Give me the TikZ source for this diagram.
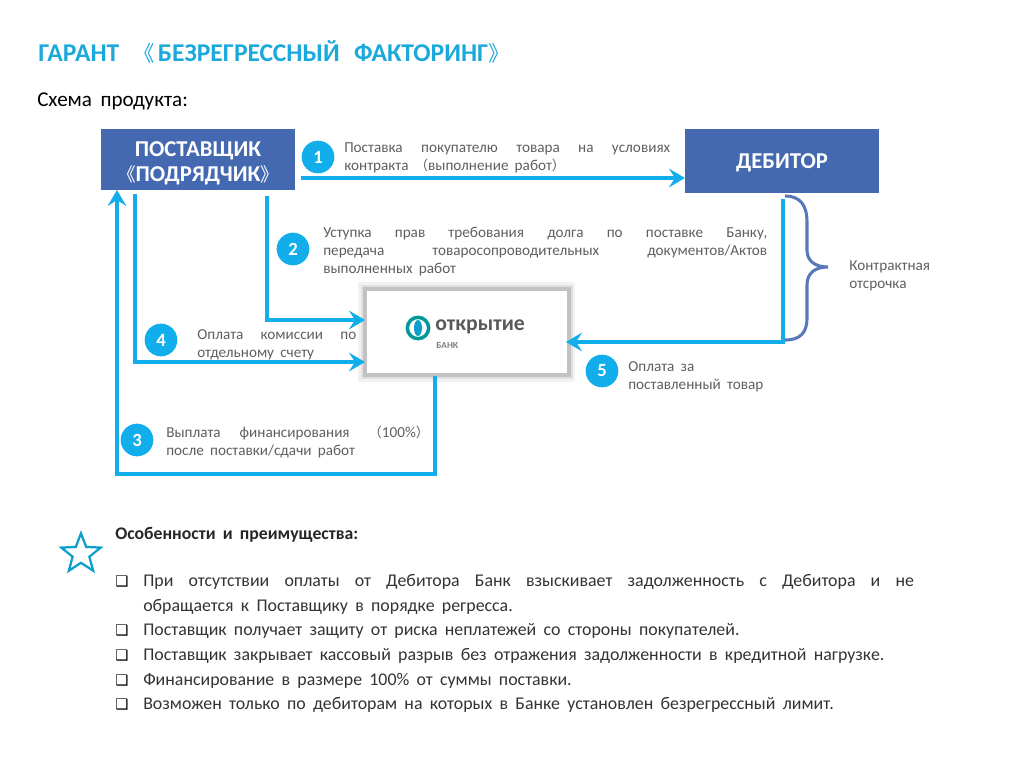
\documentclass[tikz,border=0pt]{standalone}
\usepackage{fontspec}
\setmainfont{Carlito}[WordSpace=1.8]
\newfontfamily\cjk{Noto Sans CJK SC}
\newfontfamily\dejavu{DejaVu Sans}
\usetikzlibrary{arrows.meta, shapes.geometric}
\definecolor{figBlue}{HTML}{12ADEB}
\definecolor{figBox}{HTML}{4569B1}
\definecolor{figTitle}{HTML}{1BA9DC}
\definecolor{figGrey}{HTML}{5F5F5F}
\newcommand{\figArrow}{{Stealth[length=12pt, width=14pt, inset=4.5pt]}}
\newcommand{\lb}{{\cjk\fontsize{10}{10}\selectfont （}}
\newcommand{\rb}{{\cjk\fontsize{10}{10}\selectfont ）}}
\newcommand{\oq}[1]{\smash{\cjk\mdseries\fontsize{#1}{#1}\selectfont 《}}
\newcommand{\cq}[1]{\smash{\cjk\mdseries\fontsize{#1}{#1}\selectfont 》}}
\tikzset{
	flow/.style={draw=figBlue, line width=2.5pt},
	partbox/.style={fill=figBox, text=white, inner sep=0, outer sep=0, align=center, font=\fontsize{17}{18.8}\selectfont\bfseries},
	numdot/.style={circle, fill=figBlue, text=white, inner sep=0, minimum size=24.5pt, font=\fontsize{14}{14}\selectfont\bfseries},
	lbl/.style={anchor=west, inner sep=0, text=figGrey, align=justify, font=\fontsize{11.4}{13.5}\selectfont},
	plainlbl/.style={anchor=west, inner sep=0, text=figGrey, align=left, font=\fontsize{11.4}{13.5}\selectfont},
	item/.style={anchor=west, inner sep=0, text=black!80, align=justify, text width=578pt, font=\fontsize{13.4}{18.5}\selectfont},
	tick/.style={anchor=center, inner sep=0, text=black, font=\dejavu\fontsize{11}{11}\selectfont}
}

\begin{document}
\begin{tikzpicture}[x=0.75pt, y=-0.75pt]
	\def\W{0.75pt}
	\useasboundingbox (0,0) rectangle (1024,767);

	\node[anchor=west, inner sep=0, text=figTitle, font=\fontsize{19.2}{22}\selectfont\bfseries] (title) at (38,51)
		{ГАРАНТ \hspace{3pt}\oq{16}\hspace{2pt}БЕЗРЕГРЕССНЫЙ \hspace{3pt}ФАКТОРИНГ\cq{16}};
	\node[anchor=west, inner sep=0, text=black, font=\fontsize{15.8}{18}\selectfont] (scheme) at (37,101.5) {Схема продукта:};

	\node[partbox, text height=35.5pt, minimum width=194*\W, minimum height=61*\W] (supplier) at (198,159.5)
		{ПОСТАВЩИК\\\oq{14}ПОДРЯДЧИК\cq{14}};
	\node[partbox, text height=14.5pt, minimum width=194*\W, minimum height=64*\W] (debitor) at (782,161) {ДЕБИТОР};
	\node[fill=white, draw=black!24, line width=3pt, inner sep=0, outer sep=0, minimum width=203.5*\W, minimum height=86*\W,
		preaction={draw=black!5, line width=10pt}, preaction={draw=black!12, line width=6.5pt}] (bank) at (466.75,332) {};

	% logo
	\node[circle, draw=teal!80!cyan, fill=white, line width=2.6pt, inner sep=0, minimum size=16pt] (ring) at (418,328) {};
	\node[ellipse, fill=figBlue!70!teal, inner sep=0, minimum width=6pt, minimum height=12pt] (ringcore) at (ring) {};
	\node[anchor=west, inner sep=0, text=black!65, font=\fontsize{16.3}{16}\selectfont\bfseries] (logoname) at (435,327) {открытие};
	\node[anchor=west, inner sep=0, text=black!50, font=\fontsize{7}{7}\selectfont\bfseries] (logosub) at (436,345) {БАНК};

	% arrows
	\coordinate (oneS) at (301,178);
	\coordinate (twoS) at (267,196);
	\coordinate (twoE) at (365,320);
	\coordinate (fourS) at (135,194);
	\coordinate (fourE) at (365,362);
	\coordinate (threeS) at (435,376);
	\coordinate (threeC) at (435,474);
	\coordinate (threeE) at (117,190);
	\coordinate (fiveS) at (783,199);
	\coordinate (fiveE) at (566,342);

	\draw[flow, -\figArrow] (oneS) -- (oneS -| debitor.west);
	\draw[flow, -\figArrow] (twoS) |- (twoE);
	\draw[flow, -\figArrow] (fourS) |- (fourE);
	\draw[flow, -\figArrow] (threeS) -- (threeC) -| (threeE);
	\draw[flow, -\figArrow] (fiveS) |- (fiveE);

	% brace
	\draw[draw=figBox!90!white, line width=2.3pt] (785,196) .. controls (800,196) and (807,205) .. (807,222) -- (807,250)
		.. controls (807,261) and (815,267) .. (828,267) .. controls (815,267) and (807,273) .. (807,285)
		-- (807,318) .. controls (807,333) and (800,340) .. (785,340);
	\node[plainlbl] (delay) at (849,275.5) {Контрактная\\отсрочка};

	% steps
	\node[numdot] (stepA) at (318,157) {1};
	\node[numdot] (stepB) at (293,249) {2};
	\node[numdot] (stepC) at (137,440) {3};
	\node[numdot] (stepD) at (161,340) {4};
	\node[numdot] (stepE) at (602,371) {5};

	\node[lbl, text width=326*\W] (textA) at (344,157.5)
		{Поставка покупателю товара на условиях\linebreak контракта \lb выполнение работ\rb};
	\node[lbl, text width=444*\W] (textB) at (323,251.5)
		{Уступка прав требования долга по поставке Банку,\linebreak передача товаросопроводительных документов/Актов\linebreak выполненных работ};
	\node[lbl, text width=263*\W] (textC) at (166,442.5)
		{Выплата финансирования \lb 100\%\rb\linebreak после поставки/сдачи работ};
	\node[lbl, text width=159*\W] (textD) at (197,344.5)
		{Оплата комиссии по\linebreak отдельному счету};
	\node[plainlbl] (textE) at (628,376.5) {Оплата за\\поставленный товар};

	% bottom block
	\node[star, star points=5, star point ratio=2.35, draw=figBlue!70!teal, line width=1.7pt, inner sep=0, minimum size=31pt] (mark) at (81,554) {};
	\node[anchor=west, inner sep=0, text=black!85, font=\fontsize{13.3}{15}\selectfont\bfseries] (head) at (115,534.5) {Особенности и преимущества:};

	\foreach \y in {582,631,656,681,705}
		\node[tick] at (122,\y) {❑};

	\node[item] (itemA) at (143,594.5)
		{При отсутствии оплаты от Дебитора Банк взыскивает задолженность с Дебитора и не\linebreak обращается к Поставщику в порядке регресса.};
	\node[item] (itemB) at (143,631) {Поставщик получает защиту от риска неплатежей со стороны покупателей.};
	\node[item] (itemC) at (143,656) {Поставщик закрывает кассовый разрыв без отражения задолженности в кредитной нагрузке.};
	\node[item] (itemD) at (143,681) {Финансирование в размере 100\% от суммы поставки.};
	\node[item] (itemE) at (143,705) {Возможен только по дебиторам на которых в Банке установлен безрегрессный лимит.};
\end{tikzpicture}
\end{document}
